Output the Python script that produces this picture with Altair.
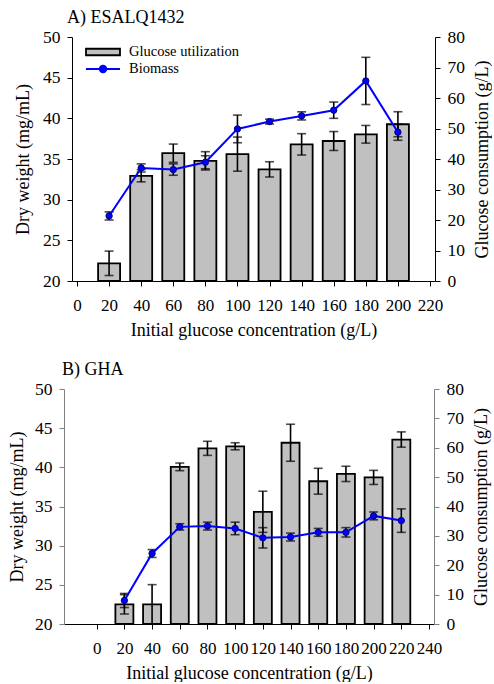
import altair as alt
import pandas as pd

FONT = "Liberation Serif"

# Panel A: strain ESALQ1432
conc_a = [20, 40, 60, 80, 100, 120, 140, 160, 180, 200]
glucose_a = [5.8, 34.5, 41.9, 39.4, 41.6, 36.6, 44.8, 45.9, 48.1, 51.4]
glucose_a_err = [4.0, 2.0, 3.0, 3.0, 5.6, 2.5, 3.5, 3.1, 2.9, 4.1]
biomass_a = [28.0, 33.9, 33.7, 34.6, 38.7, 39.6, 40.3, 41.0, 44.6, 38.3]
biomass_a_err = [0.5, 0.5, 0.7, 0.8, 1.7, 0.3, 0.5, 1.0, 2.9, 1.0]

# Panel B: strain GHA
conc_b = [20, 40, 60, 80, 100, 120, 140, 160, 180, 200, 220]
glucose_b = [6.7, 6.7, 53.5, 59.8, 60.5, 38.2, 61.7, 48.6, 51.1, 49.9, 62.8]
glucose_b_err = [3.3, 6.7, 1.3, 2.4, 1.2, 7.0, 6.3, 4.4, 2.6, 2.4, 2.6]
biomass_b = [23.0, 29.0, 32.4, 32.5, 32.2, 31.0, 31.1, 31.7, 31.7, 33.8, 33.2]
biomass_b_err = [0.9, 0.5, 0.4, 0.5, 0.8, 1.3, 0.5, 0.5, 0.6, 0.5, 1.5]

BAR_LABEL = "Glucose utilization"
LINE_LABEL = "Biomass"

AXIS_TEXT = dict(
    labelFont=FONT, titleFont=FONT, titleFontSize=18,
    labelColor="black", titleColor="black", titleFontWeight="normal",
    grid=False, domainWidth=1, tickWidth=1, tickSize=5,
)


def panel(conc, glucose, glucose_err, biomass, biomass_err, x_domain, width,
          x_start, height, title, title_dx, yaxis_color, left_title_pad,
          bar_size, with_legend):
    df = pd.DataFrame({
        "conc": conc,
        "glucose": glucose,
        "glucose_err": glucose_err,
        "biomass": biomass,
        "biomass_err": biomass_err,
        "bar_series": BAR_LABEL,
        "line_series": LINE_LABEL,
    })
    base = alt.Chart(df).transform_calculate(
        g_lo="datum.glucose - datum.glucose_err",
        g_hi="datum.glucose + datum.glucose_err",
        b_lo="datum.biomass - datum.biomass_err",
        b_hi="datum.biomass + datum.biomass_err",
    )

    # x_start < 0 lets the x axis reach further left than the plot origin
    x = alt.X(
        "conc:Q",
        scale=alt.Scale(domain=x_domain, nice=False, zero=False,
                        range=[x_start, width]),
        axis=alt.Axis(
            values=list(range(0, x_domain[1] + 1, 20)),
            title="Initial glucose concentration (g/L)",
            labelOverlap=False, labelFlush=False, labelFontSize=17,
            labelPadding=11, titlePadding=8,
            domainColor="black", tickColor="black", **AXIS_TEXT,
        ),
    )

    y_right_scale = alt.Scale(domain=[0, 80], nice=False, zero=True)
    y_left_scale = alt.Scale(domain=[20, 50], nice=False, zero=False)
    right_axis = alt.Axis(
        orient="right", values=list(range(0, 81, 10)),
        title="Glucose consumption (g/L)", labelPadding=7, titlePadding=9,
        titleAngle=270, titleBaseline="top", labelFontSize=17.5,
        domainColor=yaxis_color, tickColor=yaxis_color, **AXIS_TEXT,
    )
    left_axis = alt.Axis(
        orient="left", values=list(range(20, 51, 5)),
        title="Dry weight (mg/mL)", labelPadding=7, labelFontSize=17.5,
        titlePadding=left_title_pad, offset=-x_start,
        domainColor=yaxis_color, tickColor=yaxis_color, **AXIS_TEXT,
    )

    # glucose consumption bars on the right-hand axis
    bar_kwargs = {}
    if with_legend:
        bar_kwargs["fill"] = alt.Fill(
            "bar_series:N",
            scale=alt.Scale(domain=[BAR_LABEL], range=["#c0c0c0"]),
            legend=alt.Legend(
                orient="none", legendX=13, legendY=-3, title=None,
                symbolType="M-1,-0.19H1V0.19H-1Z", symbolSize=1156,
                symbolStrokeColor="black", symbolStrokeWidth=1.8,
                labelFont=FONT, labelFontSize=14.5, labelOffset=8,
                labelColor="black",
            ),
        )
    bars = base.mark_bar(
        size=bar_size, fill="#c0c0c0", stroke="black", strokeWidth=1.8
    ).encode(
        x=x,
        y=alt.Y("glucose:Q", scale=y_right_scale, axis=right_axis),
        **bar_kwargs,
    )
    bar_err = base.mark_errorbar(
        ticks=True, size=9, thickness=1.6, color="black"
    ).encode(
        x=x,
        y=alt.Y("g_lo:Q", scale=y_right_scale, axis=right_axis),
        y2="g_hi:Q",
    )

    # biomass line on the left-hand axis
    line_kwargs = {}
    if with_legend:
        line_kwargs["stroke"] = alt.Stroke(
            "line_series:N",
            scale=alt.Scale(domain=[LINE_LABEL], range=["#0000ff"]),
            legend=alt.Legend(
                orient="none", legendX=13, legendY=14, title=None,
                symbolType=("M-1,0H1M0.19,0A0.19,0.19,0,1,1,-0.19,0"
                            "A0.19,0.19,0,1,1,0.19,0Z"),
                symbolSize=1156, symbolStrokeWidth=2,
                symbolFillColor="#0000ff",
                labelFont=FONT, labelFontSize=14.5, labelOffset=8,
                labelColor="black",
            ),
        )
    line = base.mark_line(color="#0000ff", strokeWidth=2).encode(
        x=x,
        y=alt.Y("biomass:Q", scale=y_left_scale, axis=left_axis),
        **line_kwargs,
    )
    line_err = base.mark_errorbar(
        ticks=True, size=9, thickness=1.6, color="black"
    ).encode(
        x=x,
        y=alt.Y("b_lo:Q", scale=y_left_scale, axis=left_axis),
        y2="b_hi:Q",
    )
    points = base.mark_circle(
        size=40, color="#0000ff", stroke="#000080", strokeWidth=1, opacity=1
    ).encode(
        x=x,
        y=alt.Y("biomass:Q", scale=y_left_scale, axis=left_axis),
    )

    right_group = alt.layer(bars, bar_err)
    left_group = alt.layer(line_err, line, points)

    return alt.layer(right_group, left_group).resolve_scale(
        y="independent"
    ).properties(
        width=width,
        height=height,
        title=alt.TitleParams(
            title, anchor="start", frame="group", dx=title_dx + x_start,
            offset=1, font=FONT, fontSize=18, fontWeight="normal",
            color="black",
        ),
    )


top = panel(conc_a, glucose_a, glucose_a_err, biomass_a, biomass_a_err,
            [0, 220], 363, 0, 244, "A) ESALQ1432", -5, "black", 10, 22, True)
bottom = panel(conc_b, glucose_b, glucose_b_err, biomass_b, biomass_b_err,
               [-20, 240], 362, -8, 235, "B) GHA", -2, "#808080", 8, 18,
               False)

chart = alt.vconcat(top, bottom, spacing=22).properties(
    padding={"left": 8, "top": 9, "right": 0, "bottom": 0}
).configure_view(stroke=None)

chart.save("out.html", embed_options={"renderer": "svg", "actions": False})
